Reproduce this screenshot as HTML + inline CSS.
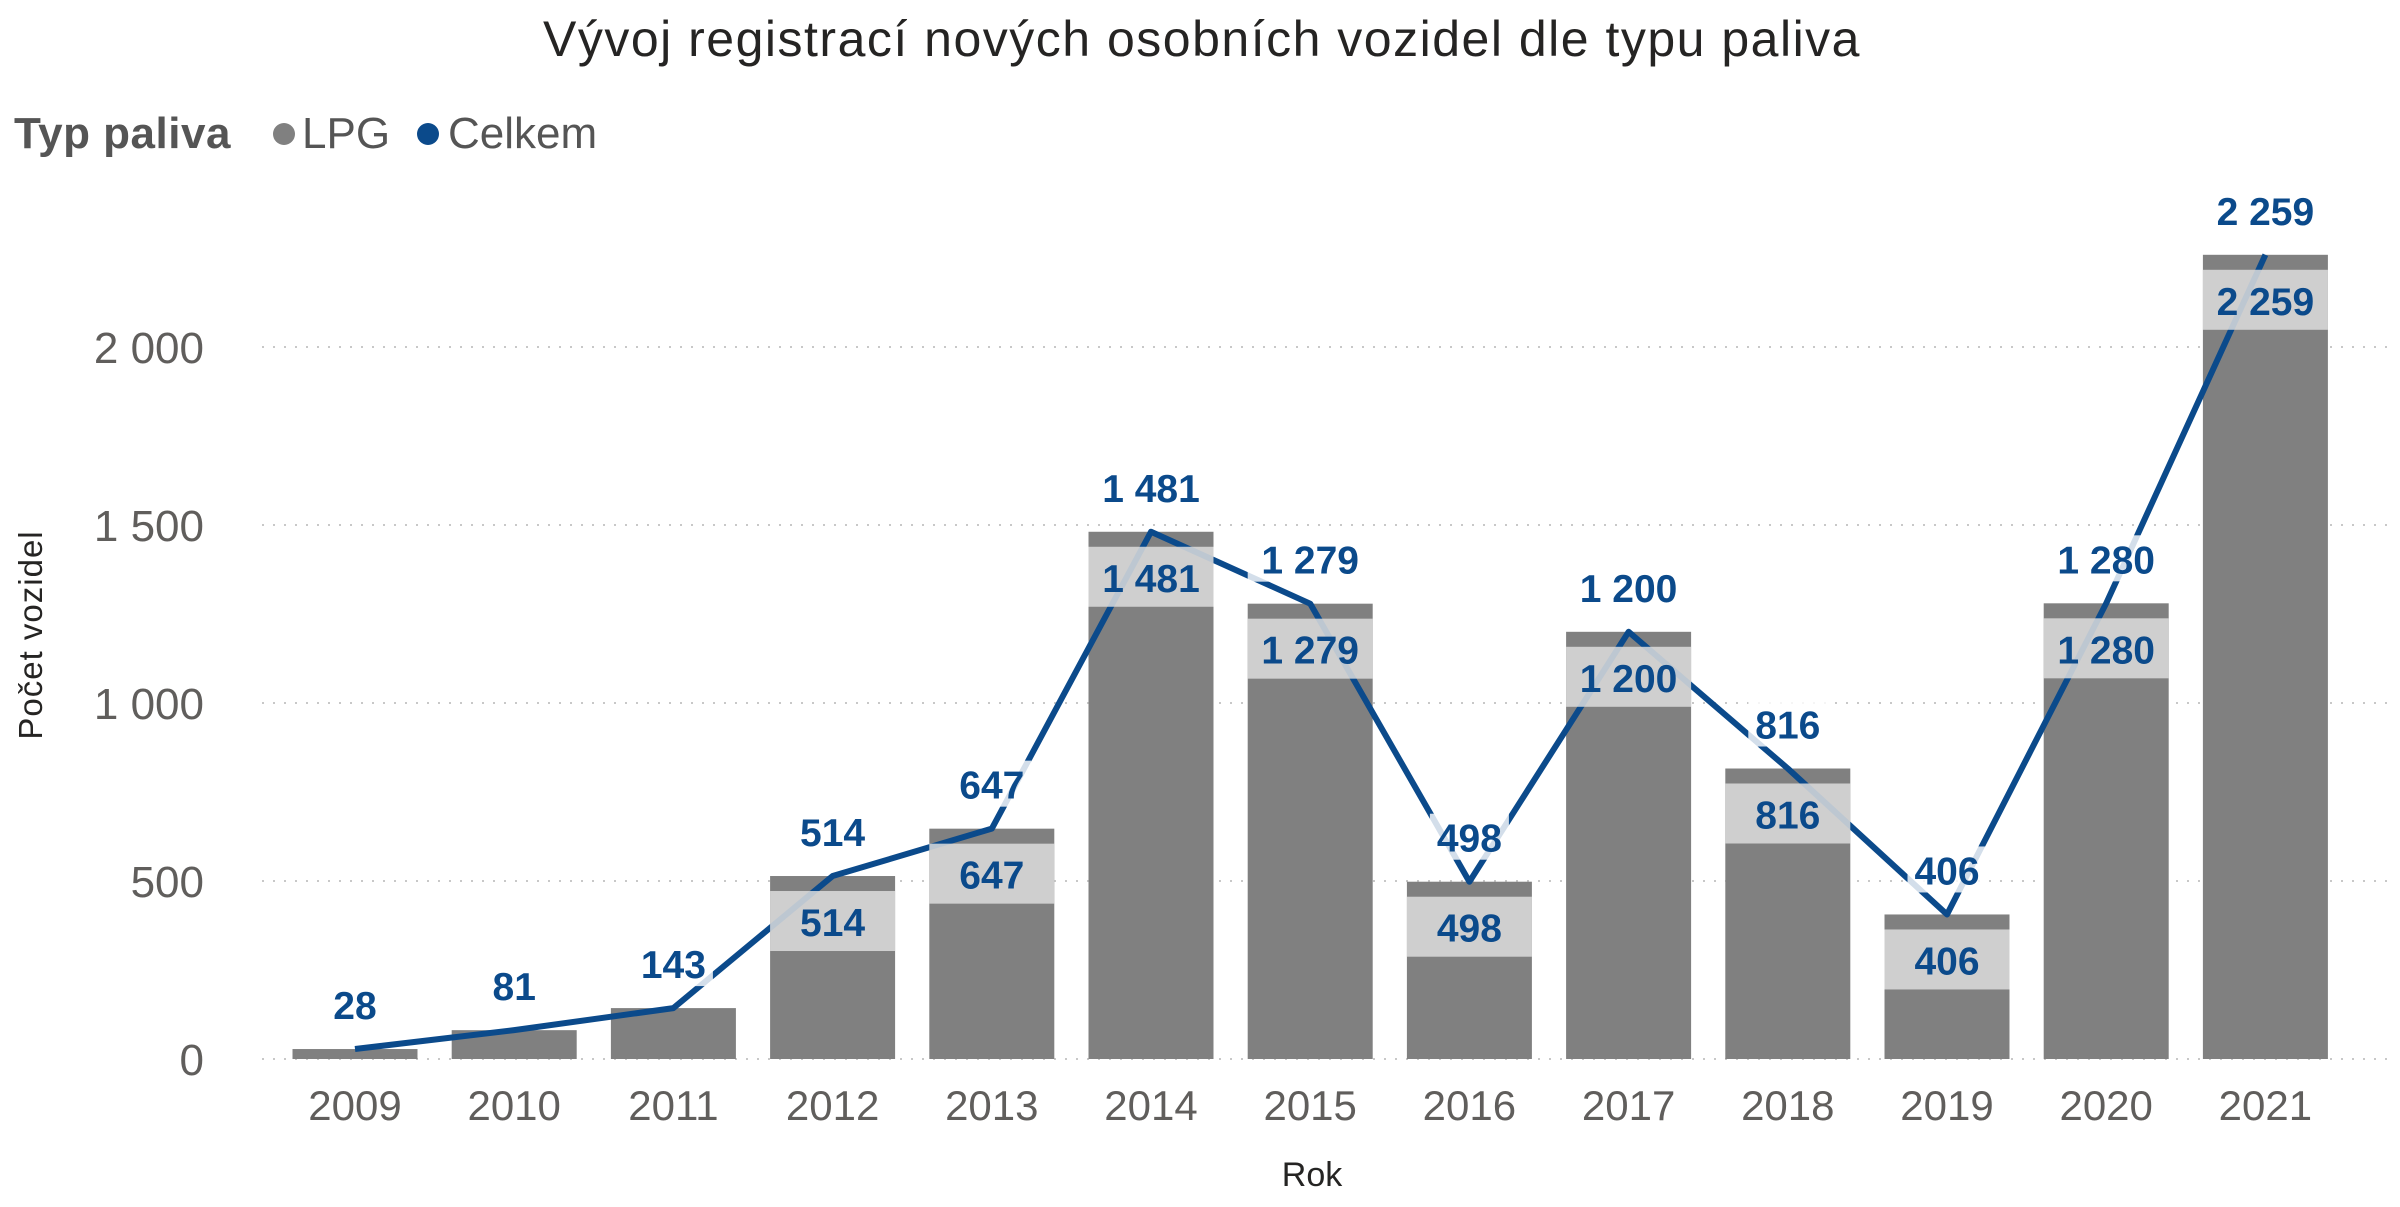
<!DOCTYPE html>
<html><head><meta charset="utf-8"><style>
html,body{margin:0;padding:0;background:#fff;}
svg{display:block;font-family:"Liberation Sans",sans-serif;}
</style></head><body>
<svg id="chart" width="2400" height="1207" viewBox="0 0 2400 1207">
<text x="1202" y="56" text-anchor="middle" font-size="50" letter-spacing="1.5" fill="#252423">Vývoj registrací nových osobních vozidel dle typu paliva</text>
<g>
<text x="14" y="148" font-size="44" font-weight="bold" fill="#555" letter-spacing="0.5">Typ paliva</text>
<circle cx="284" cy="134" r="11" fill="#808080"></circle>
<text x="302" y="148" font-size="44" fill="#555">LPG</text>
<circle cx="428" cy="134" r="11" fill="#0b4a8b"></circle>
<text x="448" y="148" font-size="44" fill="#555">Celkem</text>
</g>
<text transform="translate(42,635) rotate(-90)" text-anchor="middle" font-size="33" letter-spacing="1" fill="#252423">Počet vozidel</text>
<text x="1312" y="1186" text-anchor="middle" font-size="34" fill="#252423">Rok</text>
<g id="grid"></g><g id="bars"></g><g id="line"></g><g id="labels"></g>
</svg>
<script>
const years=["2009","2010","2011","2012","2013","2014","2015","2016","2017","2018","2019","2020","2021"];
const lpg=[28,81,143,514,647,1481,1279,498,1200,816,406,1280,2259];
const celkem=[28,81,143,514,647,1481,1279,498,1200,816,406,1280,2259];
const yTicks=[0,500,1000,1500,2000];
const yTickLabels=["0","500","1 000","1 500","2 000"];
const NS="http://www.w3.org/2000/svg";
const y0=1059,pxPer=178/500;
function y(v){return y0-v*pxPer;}
function x(i){return 355+i*159.2;}
const bw=125;
function fmt(v){return String(v).replace(/\B(?=(\d{3})+(?!\d))/g," ");}
function mk(tag,attrs,parent,txt){const e=document.createElementNS(NS,tag);for(const k in attrs)e.setAttribute(k,attrs[k]);if(txt!==undefined)e.textContent=txt;document.getElementById(parent).appendChild(e);return e;}
yTicks.forEach((t,i)=>{
 const l=mk('line',{x1:262,x2:2390,y1:y(t),y2:y(t),stroke:'#c8c8c8','stroke-width':2,'stroke-dasharray':'2 9'},'grid');
 
 
 const tx=mk('text',{x:204,y:y(t)+16,'text-anchor':'end','font-size':44,fill:'#605e5c'},'grid',yTickLabels[i]);
 
 
});
years.forEach((yr,i)=>{
 const r=mk('rect',{x:x(i)-bw/2,y:y(lpg[i]),width:bw,height:y0-y(lpg[i]),fill:'#808080'},'bars');
 
 
 const t=mk('text',{x:x(i),y:1120,'text-anchor':'middle','font-size':42,fill:'#605e5c'},'labels',yr);
 
 
});
const pts=celkem.map((v,i)=>x(i)+','+y(v)).join(' ');
const pl=mk('polyline',{points:pts,fill:'none',stroke:'#0b4a8b','stroke-width':6,'stroke-linejoin':'round'},'line');


years.forEach((yr,i)=>{
 const v=lpg[i];
 if(v>300){
  const bx=mk('rect',{x:x(i)-bw/2,y:y(v)+15,width:bw,height:60,fill:'#dddddd','fill-opacity':0.85},'labels');
  
  
  const lt=mk('text',{x:x(i),y:y(v)+60,'text-anchor':'middle','font-size':39,'font-weight':'bold',fill:'#0b4a8b'},'labels',fmt(v));
  
  
 }
 const c=celkem[i];
 const w=fmt(c).length*23+10;
 const wb=mk('rect',{x:x(i)-w/2,y:y(c)-68,width:w,height:46,fill:'#fff','fill-opacity':0.82},'labels');
 
 
 const ct=mk('text',{x:x(i),y:y(c)-30,'text-anchor':'middle','font-size':39,'font-weight':'bold',fill:'#0b4a8b'},'labels',fmt(c));
 
 
});
</script>
</body></html>
